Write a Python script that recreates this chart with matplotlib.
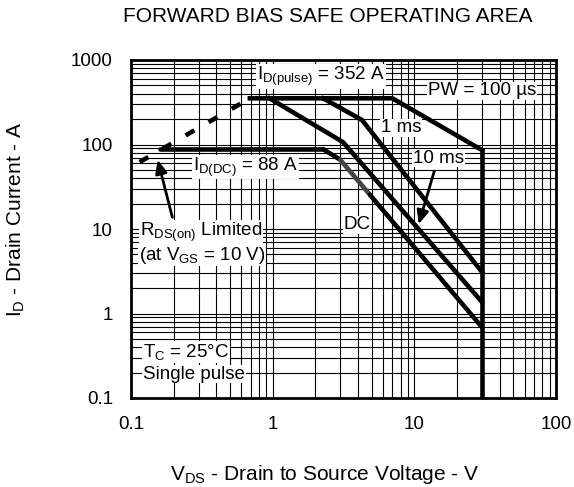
import numpy as np
import matplotlib
matplotlib.use("Agg")
import matplotlib.pyplot as plt

plt.rcParams["font.family"] = ["Liberation Sans", "DejaVu Sans"]
plt.rcParams["mathtext.fontset"] = "custom"
plt.rcParams["mathtext.rm"] = "Liberation Sans"
plt.rcParams["mathtext.it"] = "Liberation Sans"

# ── data ──────────────────────────────────────────────────────────────────────
rds_vds = [0.115, 0.69]          # RDS(on) limit (dashed)
rds_id = [62, 352]

pw100_vds = [0.69, 7.0, 30]      # PW = 100 us
pw100_id = [352, 352, 86]

ms1_vds = [2.27, 4.27, 30]       # 1 ms
ms1_id = [352, 195, 3.1]

ms10_vds = [0.95, 3.13, 30]      # 10 ms
ms10_id = [352, 107, 1.37]

dc_vds = [0.16, 2.27, 3.0, 4.86, 30]   # DC
dc_id = [88, 88, 66, 25.4, 0.69]
dc_colors = ["k", "k", "#444444", "k"]

vmax_vds = [30, 30]              # VDS(max) edge
vmax_id = [86, 0.1]

x_ticks = [0.1, 1, 10, 100]
x_ticklabels = ["0.1", "1", "10", "100"]
y_ticks = [0.1, 1, 10, 100, 1000]
y_ticklabels = ["0.1", "1", "10", "100", "1000"]

FS = 13.5      # ticks / annotations
FS_BIG = 15    # title / axis labels
W, H = 574, 487

fig = plt.figure(figsize=(W / 100, H / 100), dpi=100)
ax = fig.add_axes([131 / W, 1 - 398 / H, (556 - 131) / W, (398 - 60) / H])
ax.set_xscale("log")
ax.set_yscale("log")
ax.set_xlim(0.1, 100)
ax.set_ylim(0.1, 1000)

# grid: every 1..9 step of each decade
for dec in [0.1, 1, 10]:
    for m in range(1, 10):
        ax.axvline(dec * m, color="k", lw=0.8, zorder=1)
for dec in [0.1, 1, 10, 100]:
    for m in range(1, 10):
        ax.axhline(dec * m, color="k", lw=0.8, zorder=1)

LW = 3.3
ax.plot(rds_vds, rds_id, color="k", lw=LW, ls=(0, (2.2, 3.6)), zorder=3)
ax.plot(pw100_vds, pw100_id, color="k", lw=LW, zorder=3)
ax.plot(ms1_vds, ms1_id, color="k", lw=LW, zorder=3)
ax.plot(ms10_vds, ms10_id, color="k", lw=LW, zorder=3)
for i in range(len(dc_vds) - 1):
    ax.plot(dc_vds[i:i + 2], dc_id[i:i + 2], color=dc_colors[i], lw=LW,
            zorder=3, solid_capstyle="round")
ax.plot(vmax_vds, vmax_id, color="k", lw=LW, zorder=3)

box = dict(facecolor="white", edgecolor="none", pad=0.5)
def label(x, y, s):
    ax.text(x, y, s, fontsize=FS, ha="left", va="center", bbox=box, zorder=4)

label(0.775, 640, r"I$_{\mathrm{D(pulse)}}$ = 352 A")
label(12.5, 430, "PW = 100 µs")
label(5.8, 157, "1 ms")
label(9.8, 69, "10 ms")
label(3.15, 11.2, "DC")
label(0.274, 54, r"I$_{\mathrm{D(DC)}}$ = 88 A")
label(0.116, 9.2, r"R$_{\mathrm{DS(on)}}$ Limited")
label(0.114, 4.9, r"(at V$_{\mathrm{GS}}$ = 10 V)")
label(0.1215, 0.35, r"T$_{\mathrm{C}}$ = 25°C")
label(0.1215, 0.192, "Single pulse")

arrow = dict(arrowstyle="-|>,head_length=0.8,head_width=0.35", color="k", lw=2)
ax.annotate("", xy=(10.6, 10.6), xytext=(14.0, 52), arrowprops=arrow, zorder=5)
ax.annotate("", xy=(0.1526, 71), xytext=(0.198, 12.8), arrowprops=arrow, zorder=5)

ax.set_xticks(x_ticks)
ax.set_xticklabels(x_ticklabels)
ax.set_yticks(y_ticks)
ax.set_yticklabels(y_ticklabels)
ax.xaxis.set_minor_locator(matplotlib.ticker.NullLocator())
ax.yaxis.set_minor_locator(matplotlib.ticker.NullLocator())
ax.tick_params(length=0, labelsize=FS, pad=13)
for sp in ax.spines.values():
    sp.set_linewidth(2)
    sp.set_zorder(6)

fig.text(325 / W, 1 - 475 / H, r"V$_{\mathrm{DS}}$ - Drain to Source Voltage - V",
         fontsize=FS_BIG, ha="center", va="center")
fig.text(16 / W, 1 - 219 / H, r"I$_{\mathrm{D}}$ - Drain Current - A",
         fontsize=FS_BIG, ha="center", va="center", rotation=90)
fig.text(328 / W, 1 - 16 / H, "FORWARD BIAS SAFE OPERATING AREA",
         fontsize=FS_BIG, ha="center", va="center")

fig.savefig("out.png", dpi=100)
